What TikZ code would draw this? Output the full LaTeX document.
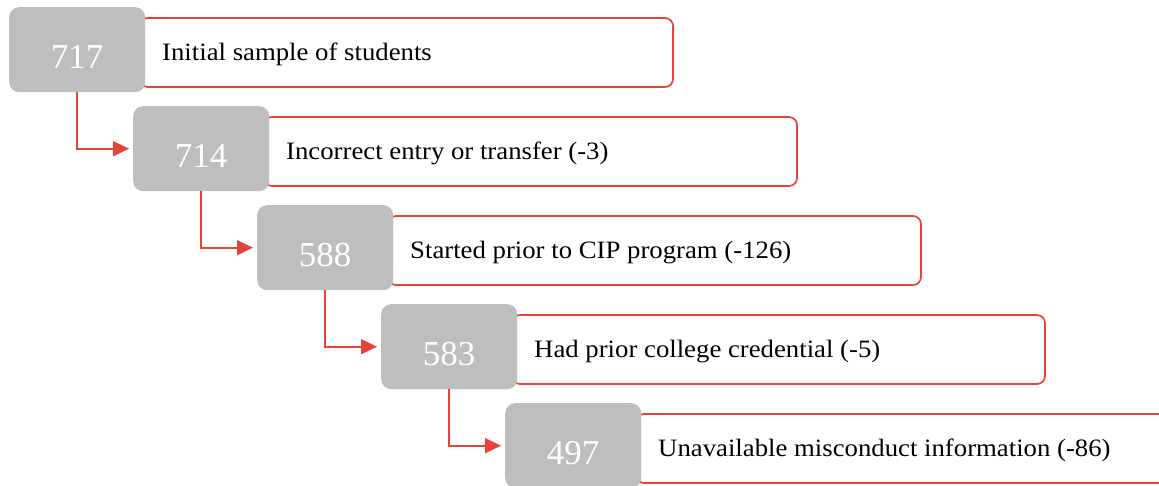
\documentclass[tikz,border=0pt]{standalone}
\usepackage{fontspec}
\setmainfont{Liberation Serif}
\newfontfamily\labfont[FakeStretch=1.07]{Liberation Serif}
\usetikzlibrary{arrows.meta}
\definecolor{redc}{HTML}{E8433A}
\definecolor{grayc}{HTML}{BEBEBE}
\begin{document}
\begin{tikzpicture}[x=1pt,y=-1pt,
  numbox/.style={fill=grayc, rounded corners=10pt, minimum width=136pt, minimum height=85pt, inner sep=0pt},
  numtext/.style={text=white, inner sep=0pt, font=\fontsize{35}{35}\selectfont},
  labbox/.style={draw=redc, line width=1.7pt, rounded corners=8pt, fill=white},
  lab/.style={anchor=west, inner sep=0pt, font=\labfont\fontsize{25}{29}\selectfont},
  conn/.style={draw=redc, line width=1.8pt, -{Triangle[length=16pt,width=15pt]}, shorten >=4pt}]
\useasboundingbox (0,0) rectangle (1159,485);
\clip (0,0) rectangle (1159,485);
\foreach \i/\n/\t in {0/717/Initial sample of students,
                      1/714/Incorrect entry or transfer (-3),
                      2/588/Started prior to CIP program (-126),
                      3/583/Had prior college credential (-5),
                      4/497/Unavailable misconduct information (-86)}{
  \pgfmathsetmacro\gx{9+124*\i}
  \pgfmathsetmacro\gy{7+99*\i}
  \draw[labbox] (\gx+131,\gy+11) rectangle (\gx+664,\gy+80);
  \node[numbox, anchor=north west] (g\i) at (\gx,\gy) {};
  \node[numtext] (n\i) at ([yshift=-7pt]g\i.center) {\n};
  \node[lab] (t\i) at (\gx+153,\gy+47.5) {\t};
}
\foreach \i in {0,1,2,3}{
  \pgfmathtruncatemacro\j{\i+1}
  \draw[conn] (g\i.south) |- (g\j.west);
}
\end{tikzpicture}
\end{document}
